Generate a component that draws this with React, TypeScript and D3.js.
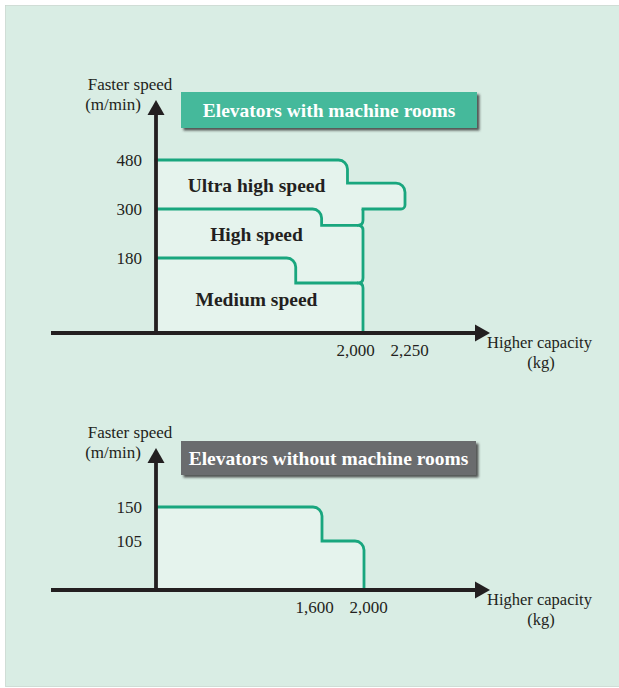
import React from 'react';
import * as d3 from 'd3';

// ---------- data ----------
const topSpeedTicks = [480, 300, 180];
const topCapacityTicks = [2000, 2250];
const bottomSpeedTicks = [150, 105];
const bottomCapacityTicks = [1600, 2000];

// outlines: [capacity kg, speed m/min]
const ultraOutline: [number, number][] = [[0, 480], [1850, 480], [1850, 395], [2250, 395], [2250, 300], [2000, 300]];
const highOutline: [number, number][] = [[0, 300], [1600, 300], [1600, 260], [2000, 260]];
const mediumOutline: [number, number][] = [[0, 180], [1350, 180], [1350, 120], [2000, 120]];
const braceCapacity = 2000;
const braceTop = 300;
const braceTips = [260, 120];
const bottomOutline: [number, number][] = [[0, 150], [1600, 150], [1600, 105], [2000, 105], [2000, 0]];

const speedClassNames = ['Ultra high speed', 'High speed', 'Medium speed'];
const speedClassBands: [number, number][] = [[300, 480], [180, 300], [0, 180]];

const topTitle = 'Elevators with machine rooms';
const bottomTitle = 'Elevators without machine rooms';
const yAxisTitle = ['Faster speed', '(m/min)'];
const xAxisTitle = ['Higher capacity', '(kg)'];

// ---------- style ----------
const INK = '#231f20';
const GREEN = '#19a67e';
const PANEL = '#d9ede4';
const FILL = '#e5f3ed';
const SERIF = '"Liberation Serif", "Times New Roman", serif';

// ---------- scales ----------
const topX = d3.scaleLinear().domain([0, 2000, 2250]).range([156, 363, 405]);
const topY = d3.scaleLinear().domain([0, 180, 300, 480]).range([333, 258, 209, 160]);
const botX = d3.scaleLinear().domain([0, 1600, 2000]).range([156, 322, 364]);
const botY = d3.scaleLinear().domain([0, 105, 150]).range([590, 541, 507]);

type Pt = [number, number];

function roundedPath(pts: Pt[], endTrim = 0): string {
  const p = d3.path();
  p.moveTo(pts[0][0], pts[0][1]);
  for (let i = 1; i < pts.length - 1; i++) {
    const [x0, y0] = pts[i - 1];
    const [x1, y1] = pts[i];
    const [x2, y2] = pts[i + 1];
    const d1x = Math.sign(x1 - x0), d1y = Math.sign(y1 - y0);
    const d2x = Math.sign(x2 - x1), d2y = Math.sign(y2 - y1);
    const cross = d1x * d2y - d1y * d2x;
    let r = 0;
    if (cross > 0) r = d1x > 0 ? 9 : 4;
    if (r > 0) p.arcTo(x1, y1, x2, y2, r);
    else p.lineTo(x1, y1);
  }
  const last = pts[pts.length - 1];
  const prev = pts[pts.length - 2];
  const dx = Math.sign(last[0] - prev[0]);
  p.lineTo(last[0] - dx * endTrim, last[1]);
  return p.toString();
}

function toPx(data: [number, number][], x: d3.ScaleLinear<number, number>, y: d3.ScaleLinear<number, number>): Pt[] {
  return data.map(([c, s]) => [x(c), y(s)] as Pt);
}

function Axes({ x0, y0, xStart, xEnd, yTop }: { x0: number; y0: number; xStart: number; xEnd: number; yTop: number }) {
  return (
    <g>
      <line x1={xStart} y1={y0} x2={xEnd - 12} y2={y0} stroke={INK} strokeWidth={3.8} />
      <polygon points={`${xEnd},${y0} ${xEnd - 15},${y0 - 8.5} ${xEnd - 15},${y0 + 8.5}`} fill={INK} />
      <line x1={x0} y1={y0} x2={x0} y2={yTop + 12} stroke={INK} strokeWidth={3.8} />
      <polygon points={`${x0},${yTop} ${x0 - 8.5},${yTop + 15} ${x0 + 8.5},${yTop + 15}`} fill={INK} />
    </g>
  );
}

function AxisTitles({ x0, y0, yTop, xEnd }: { x0: number; y0: number; yTop: number; xEnd: number }) {
  return (
    <g fontFamily={SERIF} fill={INK}>
      <text x={x0 - 26} y={yTop - 10} textAnchor="middle" fontSize={17}>{yAxisTitle[0]}</text>
      <text x={x0 - 43} y={yTop + 10} textAnchor="middle" fontSize={17}>{yAxisTitle[1]}</text>
      <text x={xEnd - 3} y={y0 + 15} textAnchor="start" fontSize={16.5}>{xAxisTitle[0]}</text>
      <text x={xEnd + 51} y={y0 + 35} textAnchor="middle" fontSize={16.5}>{xAxisTitle[1]}</text>
    </g>
  );
}

function spreadLabels(xs: number[], minSep: number): number[] {
  const out = xs.slice();
  for (let i = 1; i < out.length; i++) {
    if (out[i] - out[i - 1] < minSep) {
      const mid = (out[i] + out[i - 1]) / 2;
      out[i - 1] = mid - minSep / 2 - 1.5;
      out[i] = mid + minSep / 2 - 1.5;
    }
  }
  return out;
}

function Ticks({ speeds, caps, x, y }: { speeds: number[]; caps: number[]; x: d3.ScaleLinear<number, number>; y: d3.ScaleLinear<number, number> }) {
  const x0 = x(0);
  const y0 = y(0);
  const capXs = spreadLabels(caps.map((c) => x(c)), 54);
  return (
    <g fontFamily={SERIF} fontSize={17} fill={INK}>
      {speeds.map((s) => (
        <text key={s} x={x0 - 14} y={y(s)} dy="0.36em" textAnchor="end">{s}</text>
      ))}
      {caps.map((c, i) => (
        <text key={c} x={capXs[i]} y={y0 + 23} textAnchor="middle">{d3.format(',')(c)}</text>
      ))}
    </g>
  );
}

function TitleBox({ x, y, w, h, fill, label }: { x: number; y: number; w: number; h: number; fill: string; label: string }) {
  return (
    <g>
      <rect x={x} y={y} width={w} height={h} fill={fill} filter="url(#shadow)" />
      <text x={x + w / 2} y={y + h / 2 + 6.5} textAnchor="middle" fontFamily={SERIF} fontWeight="bold" fontSize={19.5} fill="#ffffff">{label}</text>
    </g>
  );
}

export default function App() {
  // top chart geometry
  const ultraPx = toPx(ultraOutline, topX, topY);
  const highPx = toPx(highOutline, topX, topY);
  const medPx = toPx(mediumOutline, topX, topY);
  const braceR = 5;
  const bx = topX(braceCapacity);

  const brace = (() => {
    const p = d3.path();
    p.moveTo(bx, topY(braceTop));
    braceTips.forEach((s) => {
      const ty = topY(s);
      p.lineTo(bx, ty - braceR);
      p.quadraticCurveTo(bx, ty, bx - braceR, ty);
      p.quadraticCurveTo(bx, ty, bx, ty + braceR);
    });
    p.lineTo(bx, topY(0));
    return p.toString();
  })();

  const topFillPts: Pt[] = [...ultraPx, [bx, topY(0)], [topX(0), topY(0)]];
  const topFill = roundedPath([...topFillPts, topFillPts[0]]);

  const botPx = toPx(bottomOutline, botX, botY);
  const botFillPts: Pt[] = [...botPx, [botX(0), botY(0)]];
  const botFill = roundedPath([...botFillPts, botFillPts[0]]);

  const labelX = (topX(0) + topX(2000)) / 2 - 3;

  return (
    <svg width={619} height={688} style={{ position: 'absolute', left: 0, top: 0 }}>
      <defs>
        <filter id="shadow" x="-10%" y="-30%" width="125%" height="180%">
          <feDropShadow dx={2.5} dy={2.5} stdDeviation={1} floodColor="#3a3a3a" floodOpacity={0.85} />
        </filter>
      </defs>
      <rect x={5.5} y={5.5} width={614} height={681} fill={PANEL} stroke="#c9d6cf" strokeWidth={0.8} />

      {/* ---- top chart ---- */}
      <path d={topFill} fill={FILL} />
      <g fill="none" stroke={GREEN} strokeWidth={2.8}>
        <path d={roundedPath(ultraPx)} strokeLinecap="square" />
        <path d={roundedPath(highPx, braceR)} />
        <path d={roundedPath(medPx, braceR)} />
        <path d={brace} strokeLinejoin="round" />
      </g>
      <Axes x0={topX(0)} y0={topY(0)} xStart={51} xEnd={490} yTop={100} />
      <Ticks speeds={topSpeedTicks} caps={topCapacityTicks} x={topX} y={topY} />
      <AxisTitles x0={topX(0)} y0={topY(0)} yTop={100} xEnd={490} />
      <g fontFamily={SERIF} fontWeight="bold" fontSize={19.5} fill={INK} textAnchor="middle">
        {speedClassNames.map((name, i) => {
          const [lo, hi] = speedClassBands[i];
          const extra = lo === 0 ? 3 : 0;
          return (
            <text key={name} x={labelX} y={(topY(lo) + topY(hi)) / 2 + extra} dy="0.4em">{name}</text>
          );
        })}
      </g>
      <TitleBox x={181} y={92} w={296} h={36} fill="#45b99b" label={topTitle} />

      {/* ---- bottom chart ---- */}
      <path d={botFill} fill={FILL} />
      <path d={roundedPath(botPx)} fill="none" stroke={GREEN} strokeWidth={2.8} />
      <Axes x0={botX(0)} y0={botY(0)} xStart={51} xEnd={490} yTop={448} />
      <Ticks speeds={bottomSpeedTicks} caps={bottomCapacityTicks} x={botX} y={botY} />
      <AxisTitles x0={botX(0)} y0={botY(0)} yTop={448} xEnd={490} />
      <TitleBox x={181} y={441} w={295} h={34} fill="#6b6c6e" label={bottomTitle} />
    </svg>
  );
}
